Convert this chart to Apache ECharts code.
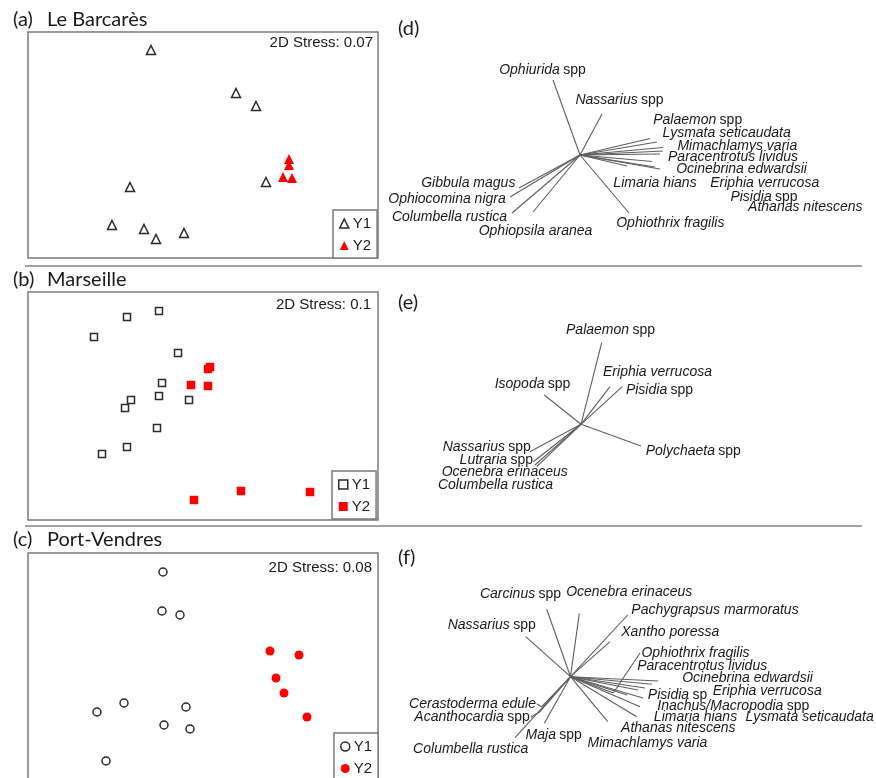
<!DOCTYPE html>
<html>
<head>
<meta charset="utf-8">
<script src="https://cdn.jsdelivr.net/npm/echarts@6/dist/echarts.min.js"></script>
<style>
  html, body { margin: 0; padding: 0; background: #fff; }
  #chart { width: 876px; height: 778px; }
</style>
</head>
<body>
<div id="chart"></div>
<script>
// ---- NMDS ordination scores (plot units) ----
const sites = ['Le Barcarès', 'Marseille', 'Port-Vendres'];
const stressValues = ['0.07', '0.1', '0.08'];

const barcaresY1 = [[123,208],[208,165],[228,152],[102,71],[238,76],[84,33],[116,29],[128,19],[156,25]];
const barcaresY2 = [[261,99],[261,93],[255,81],[264,80]];

const marseilleY1 = [[131,209],[99,203],[66,183],[150,167],[134,137],[131,124],[103,120],[97,112],[161,120],[129,92],[99,73],[74,66]];
const marseilleY2 = [[182,153],[180,151],[163,135],[180,134],[166,20],[213,29],[282,28]];

const portVendresY1 = [[135,221],[134,182],[152,178],[96,90],[69,81],[158,86],[136,68],[162,64],[78,32]];
const portVendresY2 = [[242,142],[271,138],[248,115],[256,100],[279,76]];

// ---- Species vectors (d) Le Barcarès ----
const speciesD = ['Ophiurida spp','Nassarius spp','Palaemon spp','Lysmata seticaudata','Mimachlamys varia',
  'Paracentrotus lividus','Ocinebrina edwardsii','Limaria hians','Eriphia verrucosa','Pisidia spp',
  'Athanas nitescens','Ophiothrix fragilis','Gibbula magus','Ophiocomina nigra','Columbella rustica','Ophiopsila aranea'];
const vectorsD = [[-0.27,0.75],[0.22,0.41],[0.70,0.165],[0.77,0.13],[0.83,0.075],
  [0.83,0.04],[0.80,0.01],[0.47,-0.11],[0.72,-0.065],[0.75,-0.12],
  [0.80,-0.14],[0.49,-0.58],[-0.61,-0.33],[-0.70,-0.42],[-0.68,-0.58],[-0.47,-0.57]];
const labelAtD = [[-0.375,0.85],[0.395,0.55],[1.177,0.35],[1.467,0.217],[1.573,0.093],
  [1.53,-0.023],[1.615,-0.143],[0.75,-0.277],[1.847,-0.277],[1.84,-0.417],
  [2.253,-0.523],[0.903,-0.677],[-1.117,-0.277],[-1.33,-0.44],[-1.305,-0.617],[-0.445,-0.757]];

// ---- Species vectors (e) Marseille ----
const speciesE = ['Palaemon spp','Eriphia verrucosa','Pisidia spp','Isopoda spp','Polychaeta spp',
  'Nassarius spp','Lutraria spp','Ocenebra erinaceus','Columbella rustica'];
const vectorsE = [[0.207,0.816],[0.29,0.376],[0.413,0.376],[-0.367,0.293],[0.60,-0.217],
  [-0.51,-0.274],[-0.477,-0.374],[-0.46,-0.407],[-0.443,-0.424]];
const labelAtE = [[0.295,0.943],[0.765,0.52],[0.785,0.343],[-0.485,0.40],[1.123,-0.264],
  [-0.942,-0.23],[-0.847,-0.357],[-0.763,-0.48],[-0.855,-0.607]];

// ---- Species vectors (f) Port-Vendres ----
const speciesF = ['Carcinus spp','Ocenebra erinaceus','Pachygrapsus marmoratus','Nassarius spp','Xantho poressa',
  'Ophiothrix fragilis','Paracentrotus lividus','Ocinebrina edwardsii','Eriphia verrucosa','Pisidia sp',
  'Inachus/Macropodia spp','Limaria hians','Lysmata seticaudata','Athanas nitescens','Mimachlamys varia',
  'Maja spp','Cerastoderma edule','Acanthocardia spp','Columbella rustica'];
const vectorsF = [[-0.238,0.674],[0.088,0.634],[0.572,0.617],[-0.448,0.40],[0.395,0.35],
  [0.428,-0.163],[0.675,-0.133],[0.878,-0.043],[0.815,-0.076],[0.565,-0.183],
  [0.725,-0.213],[0.695,-0.30],[0.745,-0.113],[0.662,-0.40],[0.372,-0.45],
  [-0.262,-0.466],[-0.288,-0.30],[-0.305,-0.35],[-0.555,-0.61]];
const labelAtF = [[-0.50,0.827],[0.587,0.85],[1.445,0.667],[-0.788,0.517],[0.998,0.444],
  [1.25,0.24],[1.317,0.107],[1.77,-0.016],[1.967,-0.14],[1.07,-0.183],
  [1.628,-0.29],[1.25,-0.40],[2.392,-0.40],[1.078,-0.516],[0.77,-0.666],
  [-0.168,-0.583],[-0.98,-0.273],[-0.985,-0.406],[-0.998,-0.726]];
// label leader lines in (f)
const leadersF = [[[0.428,-0.163],[0.695,0.237]],[[-0.338,-0.27],[-0.288,-0.30]],[[-0.398,-0.406],[-0.305,-0.35]]];

// ---- drawing ----
const FONT = "'Liberation Sans', Arial, sans-serif";
const HEAD = "Lato, 'Open Sans', sans-serif";
const INK = '#1a1a1a';
const FRAME = '#7a7a7a';
const RED = '#ff0000';

const chart = echarts.init(document.getElementById('chart'), null, { renderer: 'canvas' });

// scatter panels: plot box rectangles and axis extents
const scatterGrids = [
  { left: 28, top: 32, width: 350, height: 226 },
  { left: 28, top: 292, width: 350, height: 228 },
  { left: 28, top: 553, width: 350, height: 240 }
];
// vector panels: x in [-2,3], y ranges below
const vectorGrids = [
  { left: 380, top: 5, width: 500, height: 260, y: [-1.1, 1.5] },
  { left: 381, top: 294.3, width: 500, height: 230, y: [-1.0, 1.3] },
  { left: 370.5, top: 576.7, width: 500, height: 200, y: [-1.0, 1.0] }
];

const grid = [], xAxis = [], yAxis = [];
scatterGrids.forEach(g => {
  grid.push(Object.assign({ show: true, borderColor: FRAME, borderWidth: 1.5, backgroundColor: 'transparent',
    outerBoundsMode: 'none', containLabel: false }, g));
  const i = grid.length - 1;
  xAxis.push({ type: 'value', gridIndex: i, min: 0, max: g.width, show: false });
  yAxis.push({ type: 'value', gridIndex: i, min: 0, max: g.height, show: false });
});
vectorGrids.forEach(g => {
  grid.push({ show: false, left: g.left, top: g.top, width: g.width, height: g.height,
    outerBoundsMode: 'none', containLabel: false });
  const i = grid.length - 1;
  xAxis.push({ type: 'value', gridIndex: i, min: -2, max: 3, show: false });
  yAxis.push({ type: 'value', gridIndex: i, min: g.y[0], max: g.y[1], show: false });
});

const shapes = ['triangle', 'rect', 'circle'];
const openSize = [9, 7, 8];
const fillSize = [10, 8.5, 9];
const groups = [[barcaresY1, barcaresY2], [marseilleY1, marseilleY2], [portVendresY1, portVendresY2]];

const series = [];
groups.forEach((pair, i) => {
  series.push({
    type: 'scatter', name: 'Y1', xAxisIndex: i, yAxisIndex: i, data: pair[0],
    symbol: shapes[i], symbolSize: openSize[i], silent: true,
    itemStyle: { color: '#fff', borderColor: '#2a2a2a', borderWidth: 1.5, opacity: 1 }
  });
  series.push({
    type: 'scatter', name: 'Y2', xAxisIndex: i, yAxisIndex: i, data: pair[1],
    symbol: shapes[i], symbolSize: fillSize[i], silent: true, z: 3,
    itemStyle: { color: RED, opacity: 1 }
  });
});

function speciesText(name) {
  const parts = name.split(' ');
  const last = parts[parts.length - 1];
  if (last === 'spp' || last === 'sp') return '{i|' + parts.slice(0, -1).join(' ') + '} {n|' + last + '}';
  return '{i|' + name + '}';
}
const richStyle = {
  i: { fontFamily: FONT, fontStyle: 'italic', fontSize: 14, color: INK },
  n: { fontFamily: FONT, fontStyle: 'normal', fontSize: 14, color: INK }
};

const vectorSets = [[speciesD, vectorsD, labelAtD], [speciesE, vectorsE, labelAtE], [speciesF, vectorsF, labelAtF]];
vectorSets.forEach((set, k) => {
  const idx = 3 + k;
  series.push({
    type: 'lines', coordinateSystem: 'cartesian2d', xAxisIndex: idx, yAxisIndex: idx, silent: true,
    data: set[1].map(v => ({ coords: [[0, 0], v] })),
    lineStyle: { color: '#5e5e5e', width: 1.1, opacity: 1 }
  });
  series.push({
    type: 'scatter', xAxisIndex: idx, yAxisIndex: idx, silent: true, symbolSize: 1, z: 4,
    itemStyle: { color: 'rgba(0,0,0,0)', opacity: 1 },
    data: set[2].map((p, j) => ({ name: set[0][j], value: p })),
    label: { show: true, position: 'inside', color: INK, opacity: 1, textBorderWidth: 0,
      formatter: p => speciesText(p.name), rich: richStyle }
  });
});
series.push({
  type: 'lines', coordinateSystem: 'cartesian2d', xAxisIndex: 5, yAxisIndex: 5, silent: true,
  data: leadersF.map(s => ({ coords: s })),
  lineStyle: { color: '#5e5e5e', width: 1.1, opacity: 1 }
});

// panel headings
const headStyle = { fontFamily: HEAD, fontSize: 20, fontWeight: 'normal', color: INK, lineHeight: 22 };
const title = [];
const letterTops = [9, 269, 529];
['(a)', '(b)', '(c)'].forEach((t, i) => {
  title.push({ text: t, left: 13, top: letterTops[i], padding: 0, textStyle: headStyle });
  title.push({ text: sites[i], left: 47, top: letterTops[i], padding: 0, textStyle: headStyle });
});
[['(d)', 18], ['(e)', 292], ['(f)', 547]].forEach(([t, top]) => {
  title.push({ text: t, left: 398, top: top, padding: 0, textStyle: headStyle });
});
const stressTops = [35.5, 297.5, 560];
const stressRight = [503, 505, 504];
stressValues.forEach((s, i) => {
  title.push({ text: '2D Stress: ' + s, right: stressRight[i], top: stressTops[i], padding: 0,
    textStyle: { fontFamily: FONT, fontSize: 15, fontWeight: 'normal', color: INK, lineHeight: 15 } });
});

// legends (one per ordination panel)
const legendTops = [210, 471, 733];
const legendLefts = [333, 332, 334];
const legend = shapes.map((shape, i) => ({
  orient: 'vertical', left: legendLefts[i], top: legendTops[i], height: 60,
  padding: [6, 6, 5, 6], itemGap: 7, itemWidth: 9, itemHeight: 9,
  borderColor: FRAME, borderWidth: 1.5, backgroundColor: '#fff', selectedMode: false,
  textStyle: { fontFamily: FONT, fontSize: 15, color: INK, padding: [0, 0, 0, -1] },
  data: [
    { name: 'Y1', icon: shape, itemStyle: { color: '#fff', borderColor: '#2a2a2a', borderWidth: 1.5 } },
    { name: 'Y2', icon: shape, itemStyle: { color: RED, borderWidth: 0 } }
  ]
}));

chart.setOption({
  animation: false,
  backgroundColor: '#fff',
  title, legend, grid, xAxis, yAxis, series,
  graphic: [
    { type: 'line', shape: { x1: 25, y1: 266, x2: 862, y2: 266 }, style: { stroke: '#a3a3a3', lineWidth: 2 }, silent: true },
    { type: 'line', shape: { x1: 25, y1: 526, x2: 862, y2: 526 }, style: { stroke: '#a3a3a3', lineWidth: 2 }, silent: true }
  ]
});
</script>
</body>
</html>
